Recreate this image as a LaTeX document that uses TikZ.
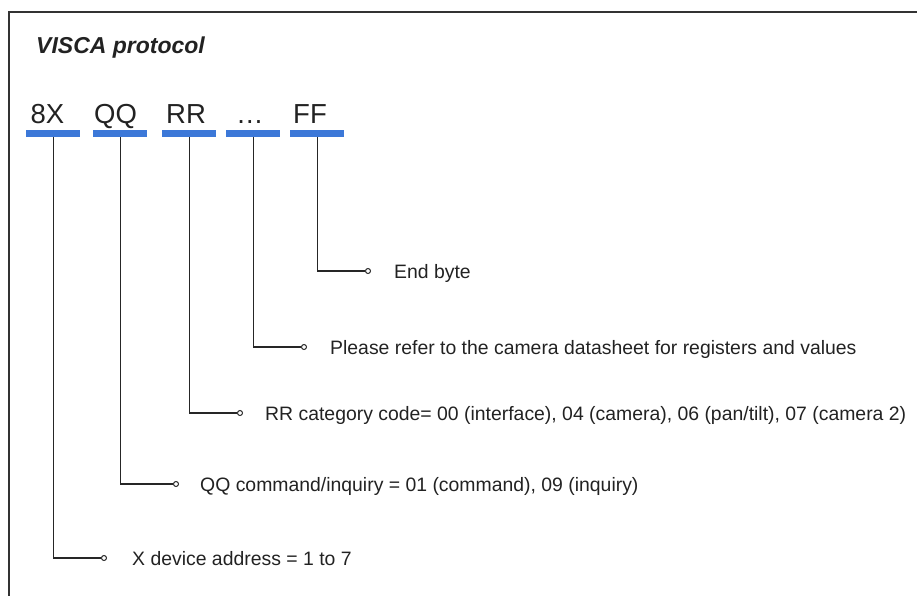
\documentclass[tikz,border=0pt]{standalone}
\usepackage{fontspec}
\setmainfont{Liberation Sans}
\definecolor{bar}{HTML}{3C78D8}
\definecolor{ink}{HTML}{222222}
\definecolor{frame}{HTML}{333333}
\begin{document}
\begin{tikzpicture}[x=1pt,y=-1pt,
  bytelbl/.style={anchor=base west,inner sep=0pt,font=\fontsize{27.5}{31}\selectfont,text=ink},
  lbl/.style={anchor=base west,inner sep=0pt,font=\fontsize{19.4}{23}\selectfont,text=ink},
  barbox/.style={fill=bar,draw=none,minimum width=54pt,minimum height=7pt,inner sep=0pt,anchor=north west},
  conn/.style={draw=black!85,line width=1.3pt},
  dot/.style={circle,draw=black!85,line width=1pt,fill=white,minimum size=5pt,inner sep=0pt}]
\useasboundingbox (0,0) rectangle (917,595);
\begin{scope}
\clip (0,0) rectangle (917,595);
\draw[frame,line width=1.5pt] (9,12) rectangle (940,620);
\end{scope}
\node[anchor=base west,inner sep=0pt,font=\fontsize{23}{27}\selectfont\bfseries\itshape,text=ink] (title) at (36,53) {VISCA protocol};
% byte labels
\node[bytelbl] (t1) at (30.5,123) {8X};
\node[bytelbl] (t2) at (94,123) {QQ};
\node[bytelbl] (t3) at (166,123) {RR};
\node[bytelbl] (t4) at (236,123) {…};
\node[bytelbl] (t5) at (293,123) {FF};
% bars
\node[barbox] (b1) at (26,130) {};
\node[barbox] (b2) at (93,130) {};
\node[barbox] (b3) at (162,130) {};
\node[barbox] (b4) at (226,130) {};
\node[barbox] (b5) at (290,130) {};
% end points
\node[dot] (d5) at (368,271) {};
\node[dot] (d4) at (304,347) {};
\node[dot] (d3) at (240,413) {};
\node[dot] (d2) at (176,484) {};
\node[dot] (d1) at (104,558) {};
% labels
\node[lbl] (l5) at (394,278) {End byte};
\node[lbl] (l4) at (330,354) {Please refer to the camera datasheet for registers and values};
\node[lbl] (l3) at (265,420) {RR category code= 00 (interface), 04 (camera), 06 (pan/tilt), 07 (camera 2)};
\node[lbl] (l2) at (200,491) {QQ command/inquiry = 01 (command), 09 (inquiry)};
\node[lbl] (l1) at (132,565) {X device address = 1 to 7};
% connectors
\draw[conn] (b1.south) -- (b1.south |- d1) -- (d1.west);
\draw[conn] (b2.south) -- (b2.south |- d2) -- (d2.west);
\draw[conn] (b3.south) -- (b3.south |- d3) -- (d3.west);
\draw[conn] (b4.south) -- (b4.south |- d4) -- (d4.west);
\draw[conn] (b5.south) -- (b5.south |- d5) -- (d5.west);
\end{tikzpicture}
\end{document}
